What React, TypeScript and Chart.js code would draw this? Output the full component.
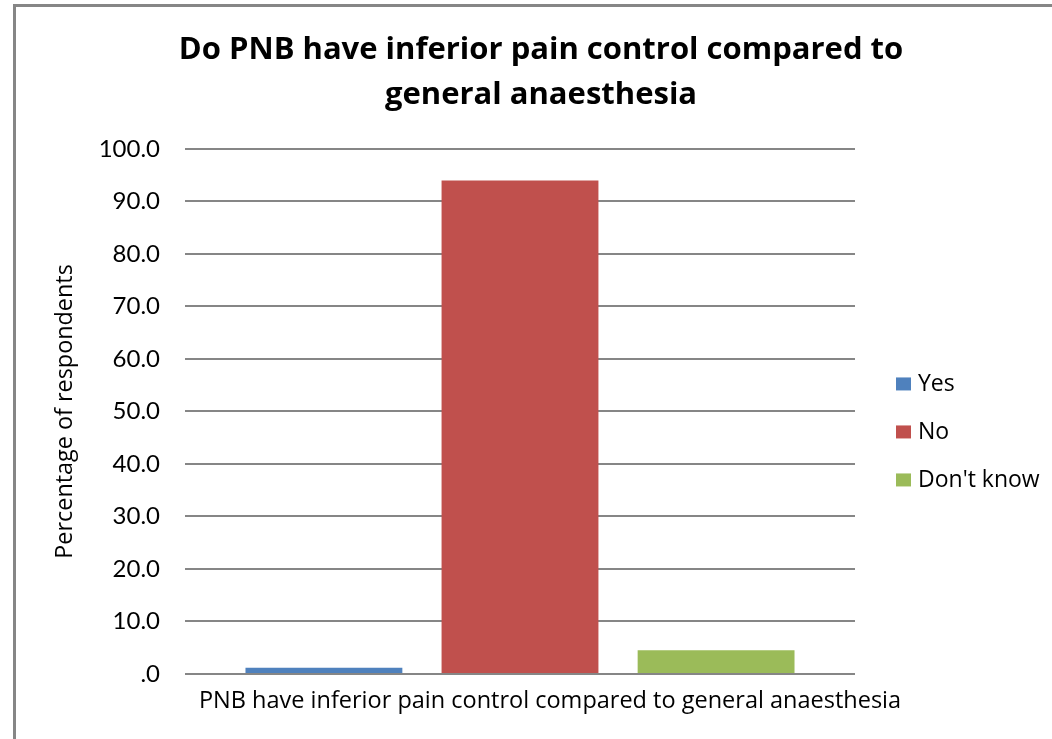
import React, { useEffect, useRef } from "react";
import { Chart, registerables } from "chart.js";

Chart.register(...registerables);

const categories = ["PNB have inferior pain control compared to general anaesthesia"];
const seriesNames = ["Yes", "No", "Don't know"];
const yesValues = [1.2];
const noValues = [94.0];
const dontKnowValues = [4.5];
const seriesColors = ["#4F81BD", "#C0504D", "#9BBB59"];
const titleLines = ["Do PNB have inferior pain control compared to", "general anaesthesia"];
const yAxisTitle = "Percentage of respondents";

const FONT = "'Open Sans', Lato, sans-serif";
const TICK_FONT = "Lato, 'Open Sans', sans-serif";

const customLegend = {
  id: "customLegend",
  afterDraw(chart: any) {
    const { ctx, chartArea } = chart;
    const x = chartArea.right + 41;
    const centerY = (chartArea.top + chartArea.bottom) / 2 + 20.5;
    const gap = 48;
    ctx.save();
    ctx.font = `23px ${FONT}`;
    ctx.textBaseline = "middle";
    ctx.textAlign = "left";
    chart.data.datasets.forEach((ds: any, i: number) => {
      const y = centerY + (i - 1) * gap;
      ctx.fillStyle = ds.backgroundColor;
      ctx.fillRect(x, y - 6.5, 15, 13);
      ctx.fillStyle = "#000";
      ctx.fillText(ds.label, x + 22, y + 1);
    });
    ctx.restore();
  },
};

export default function App() {
  const ref = useRef<HTMLCanvasElement | null>(null);

  useEffect(() => {
    if (!ref.current) return;
    const values = [yesValues, noValues, dontKnowValues];
    const chart = new Chart(ref.current, {
      type: "bar",
      data: {
        labels: categories,
        datasets: seriesNames.map((name, i) => ({
          label: name,
          data: values[i],
          backgroundColor: seriesColors[i],
          borderWidth: 0,
          categoryPercentage: 0.878,
          barPercentage: 0.8,
        })),
      },
      options: {
        responsive: false,
        animation: false,
        devicePixelRatio: 1,
        layout: { padding: { left: 30, right: 0, top: 0, bottom: 0 } },
        plugins: {
          legend: { display: false },
          tooltip: { enabled: false },
          title: {
            display: true,
            text: titleLines,
            color: "#000",
            font: { family: FONT, size: 31, weight: "bold", lineHeight: 1.45 },
            padding: { top: 27.5, bottom: 31.5 },
          },
        },
        scales: {
          x: {
            grid: { display: false },
            border: { display: false },
            ticks: {
              color: "#000",
              font: { family: FONT, size: 23.5 },
              padding: 5,
              maxRotation: 0,
              labelOffset: 30,
            },
            afterFit: (s: any) => {
              s.height = 65;
            },
          },
          y: {
            min: 0,
            max: 100,
            border: { display: false },
            grid: { color: "#868686", lineWidth: 2, drawTicks: false },
            ticks: {
              stepSize: 10,
              color: "#000",
              font: { family: TICK_FONT, size: 24 },
              padding: 25,
              callback: (v: any) => (Number(v) === 0 ? ".0" : Number(v).toFixed(1)),
            },
            title: {
              display: true,
              text: yAxisTitle,
              color: "#000",
              font: { family: FONT, size: 23.4 },
              padding: { top: 21, bottom: 0 },
            },
            afterFit: (s: any) => {
              s.width = 155;
            },
          },
          yRight: {
            type: "linear",
            position: "right",
            display: true,
            grid: { display: false },
            border: { display: false },
            ticks: { display: false },
            afterFit: (s: any) => {
              s.width = 197;
            },
          },
        },
      },
      plugins: [customLegend],
    } as any);
    return () => chart.destroy();
  }, []);

  return (
    <div
      style={{
        position: "fixed",
        left: 0,
        top: 0,
        width: 1052,
        height: 739,
        background: "#fff",
        overflow: "hidden",
      }}
    >
      <canvas ref={ref} width={1052} height={739} style={{ display: "block" }} />
      <div
        style={{
          position: "absolute",
          left: 13,
          top: 4,
          width: 1052,
          height: 739,
          borderLeft: "3px solid #868686",
          borderTop: "3px solid #868686",
          pointerEvents: "none",
        }}
      />
    </div>
  );
}
